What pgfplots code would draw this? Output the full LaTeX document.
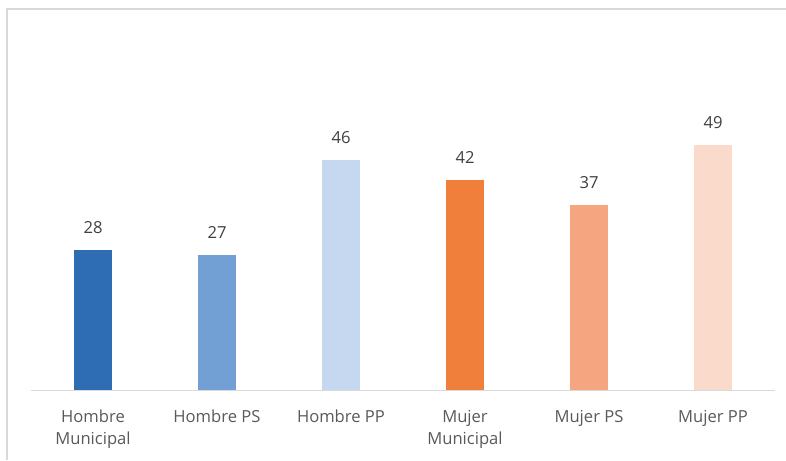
\documentclass[border=0pt]{standalone}
\usepackage{fontspec}
\setmainfont{Open Sans}
\usepackage{pgfplots}
\pgfplotsset{compat=1.18}

\definecolor{hmun}{HTML}{2E6DB4}
\definecolor{hps}{HTML}{729FD4}
\definecolor{hpp}{HTML}{C5D8EF}
\definecolor{mmun}{HTML}{F07F3C}
\definecolor{mps}{HTML}{F5A680}
\definecolor{mpp}{HTML}{FADACB}
\definecolor{labelgray}{HTML}{595959}
\definecolor{datagray}{HTML}{404040}
\definecolor{framegray}{HTML}{D9D9D9}

\begin{document}
\begin{tikzpicture}
\pgfplotsset{mybar/.style={fill=#1, draw=none, bar shift=0pt}}
\begin{axis}[
    at={(15.5pt,35pt)}, anchor=south west,
    scale only axis, width=372pt, height=150pt,
    xmin=-0.5, xmax=5.5, ymin=0, ymax=60,
    axis x line=bottom, axis y line=none,
    x axis line style={draw=framegray, -},
    ybar, bar width=19pt,
    xtick={0,...,5},
    xticklabels={{Hombre\\Municipal},{Hombre PS},{Hombre PP},{Mujer\\Municipal},{Mujer PS},{Mujer PP}},
    major tick length=0pt,
    xticklabel style={align=center, font=\fontsize{8.3}{11}\selectfont, text=labelgray, yshift=-6.5pt},
    /pgf/number format/assume math mode=true,
    nodes near coords,
    nodes near coords style={font=\fontsize{8.3}{10}\selectfont, text=datagray, anchor=south, inner sep=0pt, yshift=8pt},
]
\addplot[mybar=hmun] coordinates {(0,28)};
\addplot[mybar=hps]  coordinates {(1,27)};
\addplot[mybar=hpp]  coordinates {(2,46)};
\addplot[mybar=mmun] coordinates {(3,42)};
\addplot[mybar=mps]  coordinates {(4,37)};
\addplot[mybar=mpp]  coordinates {(5,49)};
\end{axis}
\draw[framegray, line width=0.6pt] (3.5pt,0pt) -- (3.5pt,225.5pt) -- (393pt,225.5pt);
\pgfresetboundingbox
\useasboundingbox (0pt,0pt) rectangle (393pt,230pt);
\end{tikzpicture}
\end{document}
